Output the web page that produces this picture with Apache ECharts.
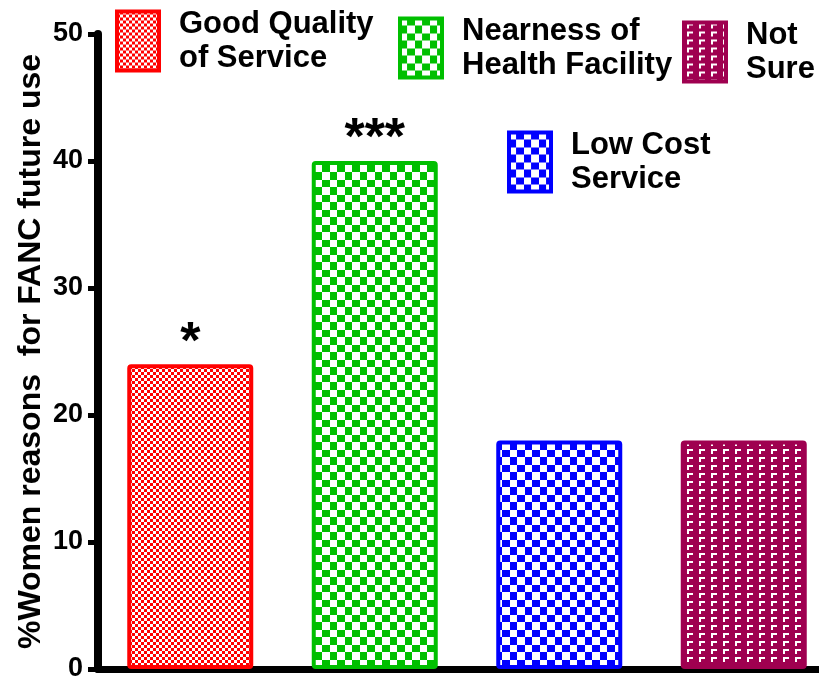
<!DOCTYPE html>
<html>
<head>
<meta charset="utf-8">
<script src="https://cdn.jsdelivr.net/npm/echarts@6/dist/echarts.min.js"></script>
<style>
html,body{margin:0;padding:0;background:#fff;}
#main{width:819px;height:681px;}
</style>
</head>
<body>
<div id="main"></div>
<script>
// ---- data ----
var categories = ['Good Quality of Service', 'Nearness of Health Facility', 'Low Cost Service', 'Not Sure'];
var legendLabels = ['Good Quality\nof Service', 'Nearness of\nHealth Facility', 'Low Cost\nService', 'Not\nSure'];
var values = [24, 40, 18, 18];
var annotations = ['*', '***', '', ''];
var yTicks = [0, 10, 20, 30, 40, 50];
var yTitle = '%Women reasons  for FANC future use';

// ---- styles ----
var colors = ['#FF0000', '#00BF00', '#0000FF', '#9F0050'];
var FONT = '"Liberation Sans", Arial, sans-serif';

function makeTile(kind, color) {
  var c = document.createElement('canvas');
  var ctx;
  if (kind === 'fine') {
    c.width = 6; c.height = 6; ctx = c.getContext('2d');
    ctx.fillStyle = color; ctx.fillRect(0, 0, 6, 6);
    ctx.fillStyle = '#fff'; ctx.fillRect(0, 0, 3, 3); ctx.fillRect(3, 3, 3, 3);
  } else if (kind === 'coarse') {
    c.width = 15; c.height = 15; ctx = c.getContext('2d');
    ctx.fillStyle = color; ctx.fillRect(0, 0, 15, 15);
    ctx.fillStyle = '#fff'; ctx.fillRect(0, 0, 7, 7); ctx.fillRect(7, 7, 8, 8);
  } else {
    c.width = 12; c.height = 8; ctx = c.getContext('2d');
    ctx.fillStyle = color; ctx.fillRect(0, 0, 12, 8);
    ctx.fillStyle = '#fff'; ctx.fillRect(3, 1, 6, 2); ctx.fillRect(3, 1, 2, 5);
  }
  return { image: c, repeat: 'repeat' };
}
var kinds = ['fine', 'coarse', 'coarse', 'ell'];
var patterns = colors.map(function (col, i) { return makeTile(kinds[i], col); });

var series = categories.map(function (cat, i) {
  var d = values.map(function (v, j) { return j === i ? v : '-'; });
  return {
    name: legendLabels[i],
    type: 'bar',
    stack: 'all',
    barWidth: 126,
    data: d,
    itemStyle: {
      color: patterns[i],
      borderColor: colors[i],
      borderWidth: 4,
      borderRadius: 2
    },
    label: {
      show: annotations[i] !== '',
      position: 'top',
      distance: -5,
      formatter: function () { return annotations[i]; },
      fontFamily: FONT,
      fontWeight: 'bold',
      fontSize: 52,
      color: '#000'
    },
    emphasis: { disabled: true },
    animation: false
  };
});

var legendPos = [
  { left: 115, top: 7 },
  { left: 398, top: 14 },
  { left: 507, top: 128 },
  { left: 682, top: 18 }
];
var legends = legendLabels.map(function (lab, i) {
  return {
    data: [lab],
    left: legendPos[i].left,
    top: legendPos[i].top,
    padding: 0,
    itemWidth: 42,
    itemHeight: 59,
    icon: 'rect',
    selectedMode: false,
    itemStyle: { borderWidth: 4 },
    textStyle: {
      fontFamily: FONT,
      fontWeight: 'bold',
      fontSize: 31,
      lineHeight: 34,
      color: '#000',
      padding: [0, 0, 0, 15]
    }
  };
});

var chart = echarts.init(document.getElementById('main'), null, { renderer: 'canvas' });
chart.setOption({
  backgroundColor: '#fff',
  animation: false,
  legend: legends,
  grid: { left: 98, width: 738, top: 34, bottom: 12, containLabel: false, outerBoundsMode: 'none' },
  xAxis: {
    type: 'category',
    data: categories,
    axisLine: { lineStyle: { color: '#000', width: 7 } },
    axisTick: { alignWithLabel: true, length: 11, lineStyle: { color: '#000', width: 7 } },
    axisLabel: { show: false },
    splitLine: { show: false }
  },
  yAxis: {
    type: 'value',
    min: yTicks[0],
    max: yTicks[yTicks.length - 1],
    interval: yTicks[1] - yTicks[0],
    name: yTitle,
    nameLocation: 'middle',
    nameRotate: 90,
    nameGap: 51,
    nameMoveOverlap: false,
    nameTextStyle: { fontFamily: FONT, fontWeight: 'bold', fontSize: 32, color: '#000' },
    axisLine: { show: true, lineStyle: { color: '#000', width: 8 } },
    axisTick: { show: true, length: 10, lineStyle: { color: '#000', width: 5 } },
    axisLabel: { margin: 15, fontFamily: FONT, fontWeight: 'bold', fontSize: 27, color: '#000' },
    splitLine: { show: false }
  },
  series: series
});
</script>
</body>
</html>
